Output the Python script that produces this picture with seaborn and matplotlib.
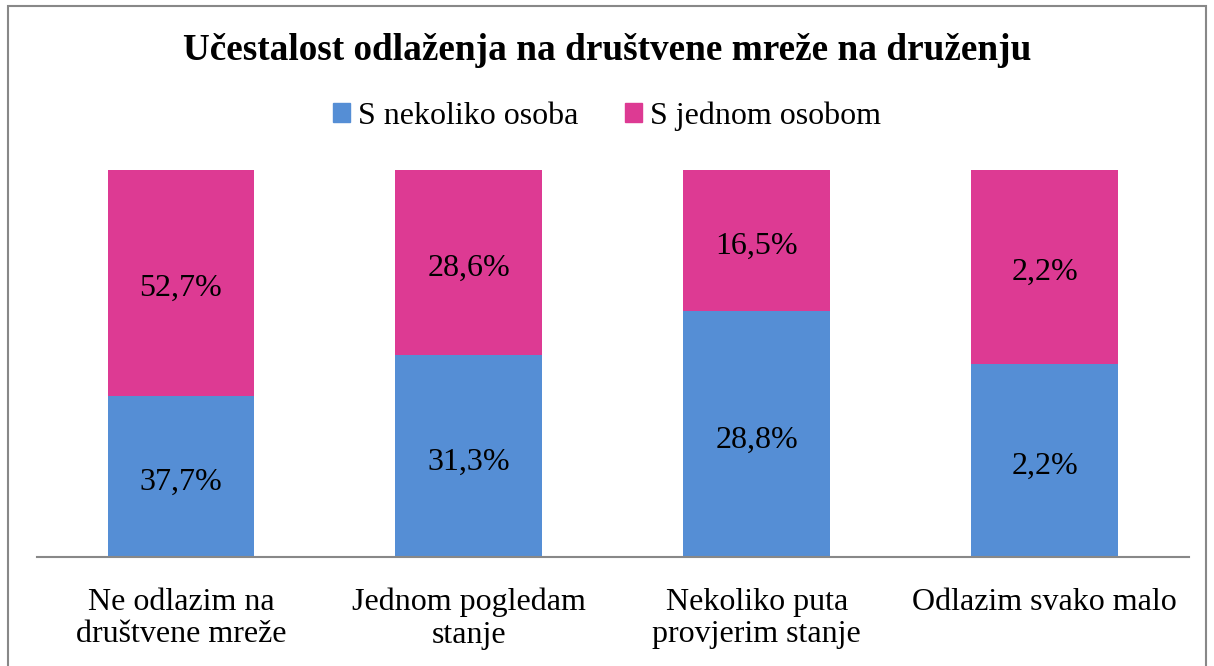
import numpy as np
import pandas as pd
import matplotlib
matplotlib.use("Agg")
import matplotlib.pyplot as plt
import matplotlib.transforms as mtransforms
import seaborn as sns
from matplotlib.patches import Patch, Rectangle

categories = ["Ne odlazim na\ndruštvene mreže", "Jednom pogledam\nstanje",
              "Nekoliko puta\nprovjerim stanje", "Odlazim svako malo"]
nekoliko = [37.7, 31.3, 28.8, 2.2]
jednom = [52.7, 28.6, 16.5, 2.2]
series_names = ["S nekoliko osoba", "S jednom osobom"]
blue = "#558ED5"
pink = "#DD3A93"

sns.set_style("white")
plt.rcParams['font.family'] = ['Liberation Serif', 'DejaVu Serif']
plt.rcParams['text.color'] = 'black'
plt.rcParams['xtick.color'] = 'black'

df = pd.DataFrame({"cat": categories, "nek": nekoliko, "jed": jednom})
df["total"] = df["nek"] + df["jed"]
df["share_nek"] = df["nek"] / df["total"]
df["share_all"] = df["total"] / df["total"]

fig = plt.figure(figsize=(12.14, 6.66), dpi=100)
ax = fig.add_axes([0.0305, 0.1637, 0.9485, 0.581])

sns.barplot(data=df, x="cat", y="share_all", color=pink, saturation=1,
            width=0.51, ax=ax, linewidth=0)
sns.barplot(data=df, x="cat", y="share_nek", color=blue, saturation=1,
            width=0.51, ax=ax, linewidth=0)

# labels sit a few pixels lower than the exact segment centre
lbl_trans = mtransforms.offset_copy(ax.transData, fig=fig, x=0, y=-6, units="dots")
for i, row in df.iterrows():
    ax.text(i, row["share_nek"] / 2, f"{row['nek']:.1f}%".replace(".", ","),
            ha="center", va="center", fontsize=23, transform=lbl_trans)
    ax.text(i, (1 + row["share_nek"]) / 2, f"{row['jed']:.1f}%".replace(".", ","),
            ha="center", va="center", fontsize=23, transform=lbl_trans)

ax.set_xlim(-0.5, 3.5)
ax.set_ylim(0, 1)
ax.set_yticks([])
ax.set_xlabel("")
ax.set_ylabel("")
for s in ["top", "right", "left"]:
    ax.spines[s].set_visible(False)
ax.spines["bottom"].set_color("#888888")
ax.spines["bottom"].set_linewidth(1.5)
ax.tick_params(axis="x", length=0, pad=22, labelsize=23)
for lbl in ax.get_xticklabels():
    lbl.set_multialignment("center")
    lbl.set_linespacing(1.18)

fig.text(0.5, 1 - 50 / 666, "Učestalost odlaženja na društvene mreže na druženju",
         ha="center", va="center", fontsize=26.8, fontweight="bold")

handles = [Patch(color=blue), Patch(color=pink)]
fig.legend(handles, series_names, loc="center", bbox_to_anchor=(0.5, 1 - 116 / 666),
           ncol=2, frameon=False, fontsize=23, handlelength=0.55, handleheight=0.55,
           handletextpad=0.25, columnspacing=1.45)

fig.patches.append(Rectangle((8 / 1214, -0.1), 1198 / 1214, 1 - 6 / 666 + 0.1,
                             transform=fig.transFigure, fill=False,
                             edgecolor="#888888", linewidth=1.5))

fig.savefig("out.png", dpi=100)
